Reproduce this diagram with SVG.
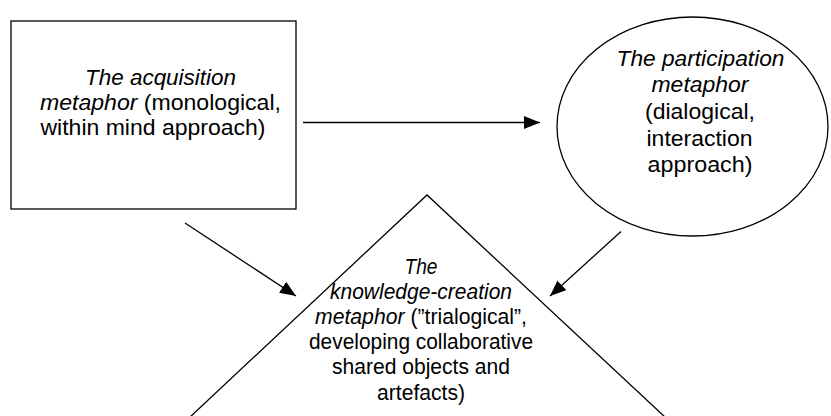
<svg xmlns="http://www.w3.org/2000/svg" width="831" height="416" viewBox="0 0 831 416">
  <style>
    .shape { fill: #ffffff; stroke: #000000; stroke-width: 1.3; }
    .conn { stroke: #000000; stroke-width: 1.3; fill: none; marker-end: url(#arrow); }
    text { font-family: "Liberation Sans", Arial, sans-serif; font-size: 22.5px; fill: #000000; text-anchor: middle; }
    .it { font-style: italic; }
  </style>
  <defs>
    <marker id="arrow" markerWidth="16" markerHeight="13" refX="16" refY="6.5" orient="auto" markerUnits="userSpaceOnUse">
      <path d="M0,0 L16,6.5 L0,13 z" fill="#000000"/>
    </marker>
  </defs>

  <!-- knowledge-creation triangle (drawn first; its base runs off the bottom edge) -->
  <g id="knowledge-creation">
    <path class="shape" d="M189,418 L427,195 L666,418"/>
    <text x="421" y="273.5" textLength="33" lengthAdjust="spacingAndGlyphs"><tspan class="it">The</tspan></text>
    <text x="421" y="298.7" textLength="182" lengthAdjust="spacingAndGlyphs"><tspan class="it">knowledge-creation</tspan></text>
    <text x="421" y="324" textLength="212" lengthAdjust="spacingAndGlyphs"><tspan class="it">metaphor</tspan> (”trialogical”,</text>
    <text x="421" y="349.2" textLength="224" lengthAdjust="spacingAndGlyphs">developing collaborative</text>
    <text x="421" y="374.4" textLength="178" lengthAdjust="spacingAndGlyphs">shared objects and</text>
    <text x="421" y="399.6" textLength="88" lengthAdjust="spacingAndGlyphs">artefacts)</text>
  </g>

  <!-- acquisition box -->
  <g id="acquisition">
    <rect class="shape" x="11" y="21" width="285" height="188"/>
    <text x="160.5" y="85" textLength="151" lengthAdjust="spacingAndGlyphs"><tspan class="it">The acquisition</tspan></text>
    <text x="160.5" y="110" textLength="241" lengthAdjust="spacingAndGlyphs"><tspan class="it">metaphor</tspan> (monological,</text>
    <text x="153" y="135" textLength="225" lengthAdjust="spacingAndGlyphs">within mind approach)</text>
  </g>

  <!-- participation ellipse -->
  <g id="participation">
    <ellipse class="shape" cx="692.5" cy="126.5" rx="135.5" ry="109.5"/>
    <text x="700.5" y="66" textLength="168" lengthAdjust="spacingAndGlyphs"><tspan class="it">The participation</tspan></text>
    <text x="700" y="92" textLength="97" lengthAdjust="spacingAndGlyphs"><tspan class="it">metaphor</tspan></text>
    <text x="700" y="119" textLength="110" lengthAdjust="spacingAndGlyphs">(dialogical,</text>
    <text x="699.5" y="146" textLength="106" lengthAdjust="spacingAndGlyphs">interaction</text>
    <text x="700" y="172" textLength="105" lengthAdjust="spacingAndGlyphs">approach)</text>
  </g>

  <!-- connectors -->
  <g id="connectors">
    <line class="conn" x1="303" y1="122.5" x2="540" y2="122.5"/>
    <line class="conn" x1="185" y1="223" x2="296" y2="296"/>
    <line class="conn" x1="621" y1="231.5" x2="550" y2="296"/>
  </g>
</svg>
